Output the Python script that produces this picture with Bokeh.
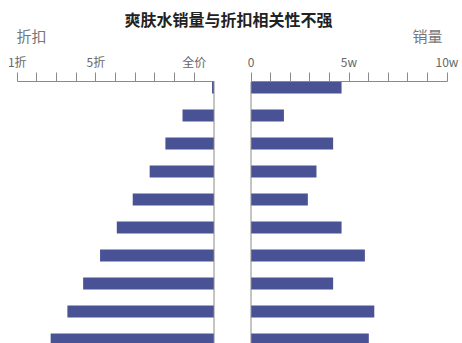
from bokeh.plotting import figure
from bokeh.models import Range1d, LinearAxis, FixedTicker, Span, Label
from bokeh.layouts import column, row
from bokeh.embed import file_html
from bokeh.resources import INLINE

# ---- data ----
title_text = "爽肤水销量与折扣相关性不强"
left_title = "折扣"
right_title = "销量"
rows = [1, 2, 3, 4, 5, 6, 7, 8, 9, 10]
# discount depth (units: 0 = none .. 10 = "1折" end of axis)
discount = [0.1, 1.6, 2.47, 3.27, 4.13, 4.94, 5.79, 6.65, 7.45, 8.3]
# sales in 万 (w)
sales_w = [4.62, 1.68, 4.19, 3.34, 2.9, 4.62, 5.81, 4.19, 6.29, 6.01]
left_ticks = [1, 2, 3, 4, 5, 6, 7, 8, 9, 10]
left_tick_labels = {1: "全价", 6: "5折", 10: "1折"}
right_ticks = [0, 1, 2, 3, 4, 5, 6, 7, 8, 9, 10]
right_tick_labels = {0: "0", 5: "5w", 10: "10w"}

BAR = "#4a5296"
AXIS = "#8a8a8a"
FONT = "Noto Sans CJK SC"

# ---- top strip with the titles ----
p_top = figure(width=462, height=45, x_range=Range1d(0, 462), y_range=Range1d(45, 0),
               toolbar_location=None, output_backend="svg",
               x_axis_location=None, y_axis_location=None,
               min_border=0, outline_line_color=None)
p_top.grid.visible = False
p_top.add_layout(Label(x=228, y=18, text=title_text, text_align="center", text_baseline="middle",
                       text_font=FONT, text_font_size="16px", text_font_style="bold", text_color="#222222"))
p_top.add_layout(Label(x=31, y=35, text=left_title, text_align="center", text_baseline="middle",
                       text_font=FONT, text_font_size="15px", text_color="#777777"))
p_top.add_layout(Label(x=427, y=35, text=right_title, text_align="center", text_baseline="middle",
                       text_font=FONT, text_font_size="15px", text_color="#777777"))

yr_start, yr_end = 10.143, 0.786


def make_panel(width, x_range, ticks, labels):
    p = figure(width=width, height=298, x_range=x_range, y_range=Range1d(yr_start, yr_end),
               toolbar_location=None, output_backend="svg",
               x_axis_location=None, y_axis_location=None,
               min_border_left=0, min_border_right=0, min_border_bottom=0, min_border_top=36,
               outline_line_color=None)
    p.grid.visible = False
    ax = LinearAxis(ticker=FixedTicker(ticks=ticks), bounds=(0, 10))
    ax.major_label_overrides = {t: labels.get(t, "") for t in ticks}
    ax.axis_line_color = AXIS
    ax.major_tick_line_color = AXIS
    ax.minor_tick_line_color = None
    ax.major_tick_out = 9
    ax.major_tick_in = 0
    ax.major_label_standoff = 3
    ax.major_label_text_font = FONT
    ax.major_label_text_font_size = "12px"
    ax.major_label_text_color = "#666666"
    p.add_layout(ax, "above")
    p.add_layout(Span(location=0, dimension="height", line_color=AXIS, line_width=1))
    return p


pl = make_panel(232, Range1d(10.849, -0.94), left_ticks, left_tick_labels)
pl.hbar(y=rows, left=0, right=discount, height=0.43, fill_color=BAR, line_color=None)

pr = make_panel(230, Range1d(-0.944, 10.79), right_ticks, right_tick_labels)
pr.hbar(y=rows, left=0, right=sales_w, height=0.43, fill_color=BAR, line_color=None)

layout = column(p_top, row(pl, pr))
open("out.html", "w").write(file_html(layout, INLINE))
